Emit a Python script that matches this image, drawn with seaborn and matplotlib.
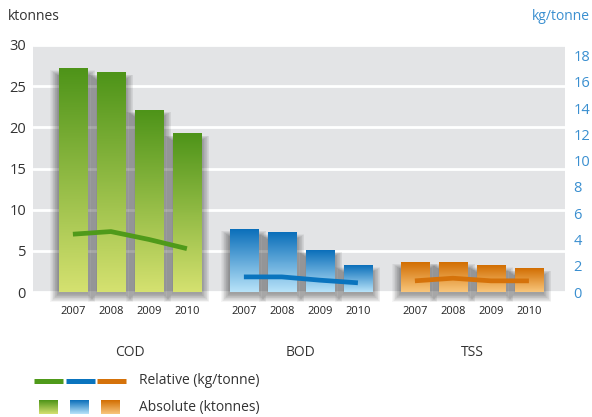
import numpy as np
import pandas as pd
import matplotlib
matplotlib.use('Agg')
import matplotlib.pyplot as plt
from matplotlib.colors import LinearSegmentedColormap
from matplotlib.patches import Rectangle
import seaborn as sns

# --- data ---
groups = ["COD", "BOD", "TSS"]
years = ["2007", "2008", "2009", "2010"]
absolute_kt = {
    "COD": [27.1, 26.6, 22.1, 19.2],
    "BOD": [7.6, 7.2, 5.1, 3.2],
    "TSS": [3.6, 3.6, 3.2, 2.8],
}
relative_kg_t = {
    "COD": [4.4, 4.6, 4.0, 3.3],
    "BOD": [1.15, 1.15, 0.9, 0.7],
    "TSS": [0.85, 1.05, 0.85, 0.85],
}

# top / bottom colours of the bar gradients, and line colours
bar_top = {"COD": "#4e9419", "BOD": "#0b6fba", "TSS": "#d26e02"}
bar_bottom = {"COD": "#d5e170", "BOD": "#b8e3f9", "TSS": "#f8c67c"}
line_col = {"COD": "#4f9a1a", "BOD": "#0a74be", "TSS": "#d5720a"}
TEXT = "#333333"
BLUE = "#3a8fd0"

sns.set_theme(style="white")
plt.rcParams['font.family'] = ['Open Sans', 'DejaVu Sans']

# build long table; positions leave a gap of half a bar between groups
rows = []
for gi, g in enumerate(groups):
    for yi, yr in enumerate(years):
        rows.append({"group": g, "year": yr, "pos": gi * 4.5 + yi,
                     "abs": absolute_kt[g][yi], "rel": relative_kg_t[g][yi]})
df = pd.DataFrame(rows)

fig = plt.figure(figsize=(5.92, 4.17), dpi=100)
ax = fig.add_axes([33 / 592, 1 - 292 / 417, 532 / 592, 247 / 417])
ax.set_facecolor("#e3e4e6")
for s in ax.spines.values():
    s.set_visible(False)

sns.barplot(data=df, x="pos", y="abs", hue="group", palette=bar_top,
            native_scale=True, dodge=False, width=0.74, legend=False,
            saturation=1, ax=ax, zorder=3)

xlim = (-1.05, 12.95)
ylim = (0, 30)

# gradient fills + soft drop shadow; bars come out in row order
px_x = 38.0            # pixels per x unit
px_y = 247.0 / 30      # pixels per y unit
bars = sorted([p for p in ax.patches if isinstance(p, Rectangle)], key=lambda p: p.get_x())
for p, g in zip(bars, df["group"]):
    x0, w, h = p.get_x(), p.get_width(), p.get_height()
    for k in range(1, 13):
        dx = k * 0.7 / px_x
        dy = k * 0.7 / px_y
        top = h - 7 / px_y + k * 0.45 / px_y
        ax.add_patch(Rectangle((x0 - dx, -dy - 1.5 / px_y), w + 2 * dx,
                               top + dy + 1.5 / px_y,
                               facecolor="black", alpha=0.035, lw=0,
                               zorder=2, clip_on=False))
    cmap = LinearSegmentedColormap.from_list(g, [bar_bottom[g], bar_top[g]])
    grad = np.linspace(0, 1, 128).reshape(-1, 1)
    ax.imshow(grad, extent=[x0, x0 + w, 0, h], origin="lower", aspect="auto",
              cmap=cmap, zorder=3.5)
    p.set_visible(False)

ax.set_xlim(*xlim)
ax.set_ylim(*ylim)
ax.set_yticks(np.arange(0, 31, 5))
ax.grid(axis="y", color="white", linewidth=2)
ax.set_axisbelow(True)
ax.tick_params(axis="y", length=0, pad=5, labelsize=10.5, labelcolor=TEXT)
ax.set_xticks(df["pos"])
ax.set_xticklabels(df["year"], fontsize=8, color="#222222")
ax.tick_params(axis="x", length=0, pad=10)
ax.set_xlabel("")
ax.set_ylabel("")

for gi, g in enumerate(groups):
    ax.text(gi * 4.5 + 1.5, -0.245, g, transform=ax.get_xaxis_transform(),
            ha="center", va="center", fontsize=10, color=TEXT)

# relative series on the right axis
ax2 = ax.twinx()
sns.lineplot(data=df, x="pos", y="rel", hue="group", palette=line_col,
             linewidth=3.4, legend=False, ax=ax2)
for ln in ax2.lines:
    ln.set_solid_capstyle("butt")
    ln.set_solid_joinstyle("round")
ax2.set_ylim(0, 18.8)
ax2.set_yticks(np.arange(0, 19, 2))
ax2.tick_params(axis="y", length=0, pad=6, labelsize=10.5, labelcolor=BLUE)
ax2.set_xlim(*xlim)
ax2.set_ylabel("")
ax2.set_xlabel("")
ax2.grid(False)
for s in ax2.spines.values():
    s.set_visible(False)

fig.text(8 / 592, 1 - 17 / 417, "ktonnes", fontsize=10, color=TEXT,
         ha="left", va="center")
fig.text(590 / 592, 1 - 17 / 417, "kg/tonne", fontsize=10, color=BLUE,
         ha="right", va="center")

# legend drawn in pixel space
lg = fig.add_axes([0, 0, 1, 1], zorder=10)
lg.axis("off")
for i, g in enumerate(groups):
    lg.plot([34 + i * 31.5, 63 + i * 31.5], [381, 381], color=line_col[g],
            linewidth=3.6, solid_capstyle="butt")
    cmap = LinearSegmentedColormap.from_list(g + "_lg", [bar_bottom[g], bar_top[g]])
    lg.imshow(np.linspace(0, 1, 64).reshape(-1, 1), extent=[39 + i * 31, 58 + i * 31, 414, 400],
              origin="lower", aspect="auto", cmap=cmap)
lg.set_xlim(0, 592)
lg.set_ylim(417, 0)
lg.text(139, 381, "Relative (kg/tonne)", fontsize=10, color=TEXT, va="center")
lg.text(139, 408, "Absolute (ktonnes)", fontsize=10, color=TEXT, va="center")

fig.savefig("out.png", dpi=100)
